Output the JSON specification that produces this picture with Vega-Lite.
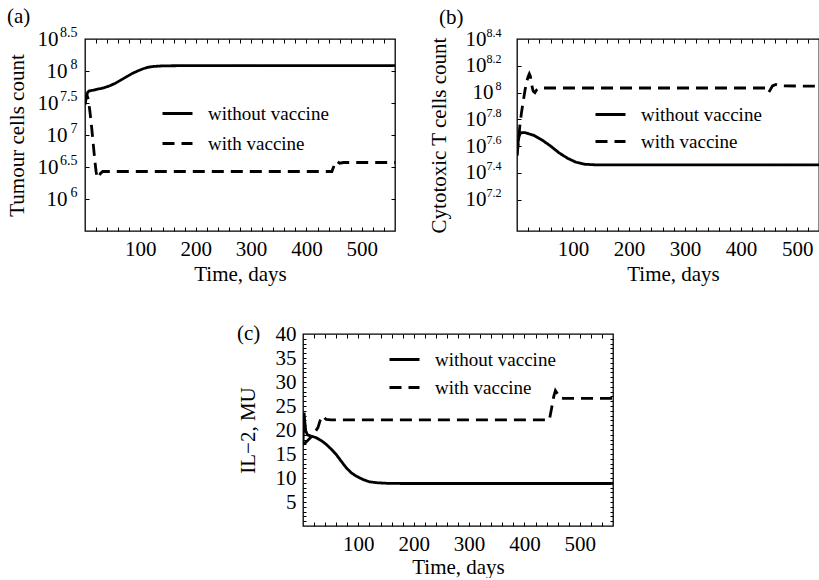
{
  "$schema": "https://vega.github.io/schema/vega-lite/v6.json",
  "padding": {"left": 5, "top": 5, "right": 0, "bottom": 0},
  "background": "white",
  "config": {
    "font": "Liberation Serif",
    "view": {"stroke": "black", "strokeWidth": 1.3},
    "axis": {"grid": false, "domain": false, "labelFont": "Liberation Serif", "titleFont": "Liberation Serif", "labelFontSize": 21, "titleFontSize": 21, "titleFontWeight": "normal", "labelColor": "black", "titleColor": "black", "tickColor": "black", "tickWidth": 1, "labelOverlap": false, "labelFlush": false, "labelBound": false},
    "legend": {"labelFont": "Liberation Serif", "labelFontSize": 19, "labelColor": "black", "symbolType": "stroke", "symbolStrokeWidth": 2.8, "symbolStrokeColor": "black", "symbolSize": 900, "padding": 0, "rowPadding": 0, "labelOffset": 14},
    "title": {"font": "Liberation Serif", "fontSize": 21, "fontWeight": "normal", "color": "black", "anchor": "start", "frame": "group"}
  },
  "datasets": {
    "a": [
      {"t": 0, "v": 7.48, "s": "without vaccine"}, {"t": 2, "v": 7.6, "s": "without vaccine"}, {"t": 5, "v": 7.67, "s": "without vaccine"}, {"t": 8, "v": 7.69, "s": "without vaccine"}, {"t": 15, "v": 7.7, "s": "without vaccine"}, {"t": 25, "v": 7.72, "s": "without vaccine"}, {"t": 35, "v": 7.74, "s": "without vaccine"}, {"t": 45, "v": 7.77, "s": "without vaccine"}, {"t": 55, "v": 7.81, "s": "without vaccine"}, {"t": 65, "v": 7.86, "s": "without vaccine"}, {"t": 75, "v": 7.91, "s": "without vaccine"}, {"t": 85, "v": 7.96, "s": "without vaccine"}, {"t": 95, "v": 8.0, "s": "without vaccine"}, {"t": 105, "v": 8.035, "s": "without vaccine"}, {"t": 115, "v": 8.06, "s": "without vaccine"}, {"t": 125, "v": 8.072, "s": "without vaccine"}, {"t": 140, "v": 8.08, "s": "without vaccine"}, {"t": 170, "v": 8.083, "s": "without vaccine"}, {"t": 560, "v": 8.083, "s": "without vaccine"},
      {"t": 0, "v": 7.48, "s": "with vaccine"}, {"t": 2, "v": 7.57, "s": "with vaccine"}, {"t": 4, "v": 7.61, "s": "with vaccine"}, {"t": 6, "v": 7.56, "s": "with vaccine"}, {"t": 9, "v": 7.36, "s": "with vaccine"}, {"t": 12, "v": 7.12, "s": "with vaccine"}, {"t": 15, "v": 6.85, "s": "with vaccine"}, {"t": 18, "v": 6.58, "s": "with vaccine"}, {"t": 20, "v": 6.43, "s": "with vaccine"}, {"t": 22, "v": 6.33, "s": "with vaccine"}, {"t": 25, "v": 6.35, "s": "with vaccine"}, {"t": 28, "v": 6.4, "s": "with vaccine"}, {"t": 32, "v": 6.43, "s": "with vaccine"}, {"t": 40, "v": 6.43, "s": "with vaccine"}, {"t": 446, "v": 6.43, "s": "with vaccine"}, {"t": 449, "v": 6.5, "s": "with vaccine"}, {"t": 452, "v": 6.58, "s": "with vaccine"}, {"t": 455, "v": 6.59, "s": "with vaccine"}, {"t": 460, "v": 6.56, "s": "with vaccine"}, {"t": 467, "v": 6.57, "s": "with vaccine"}, {"t": 560, "v": 6.57, "s": "with vaccine"}
    ],
    "b": [
      {"t": 0, "v": 7.53, "s": "without vaccine"}, {"t": 2, "v": 7.63, "s": "without vaccine"}, {"t": 4, "v": 7.68, "s": "without vaccine"}, {"t": 7, "v": 7.7, "s": "without vaccine"}, {"t": 15, "v": 7.7, "s": "without vaccine"}, {"t": 30, "v": 7.68, "s": "without vaccine"}, {"t": 45, "v": 7.645, "s": "without vaccine"}, {"t": 60, "v": 7.6, "s": "without vaccine"}, {"t": 75, "v": 7.55, "s": "without vaccine"}, {"t": 90, "v": 7.51, "s": "without vaccine"}, {"t": 105, "v": 7.48, "s": "without vaccine"}, {"t": 120, "v": 7.465, "s": "without vaccine"}, {"t": 140, "v": 7.46, "s": "without vaccine"}, {"t": 560, "v": 7.46, "s": "without vaccine"},
      {"t": 0, "v": 7.53, "s": "with vaccine"}, {"t": 3, "v": 7.65, "s": "with vaccine"}, {"t": 5, "v": 7.75, "s": "with vaccine"}, {"t": 8, "v": 7.85, "s": "with vaccine"}, {"t": 11, "v": 7.93, "s": "with vaccine"}, {"t": 14, "v": 8.01, "s": "with vaccine"}, {"t": 17, "v": 8.08, "s": "with vaccine"}, {"t": 20, "v": 8.12, "s": "with vaccine"}, {"t": 22, "v": 8.14, "s": "with vaccine"}, {"t": 24, "v": 8.12, "s": "with vaccine"}, {"t": 26, "v": 8.06, "s": "with vaccine"}, {"t": 29, "v": 8.01, "s": "with vaccine"}, {"t": 32, "v": 8.0, "s": "with vaccine"}, {"t": 35, "v": 8.02, "s": "with vaccine"}, {"t": 40, "v": 8.034, "s": "with vaccine"}, {"t": 445, "v": 8.034, "s": "with vaccine"}, {"t": 447, "v": 8.02, "s": "with vaccine"}, {"t": 449, "v": 8.0, "s": "with vaccine"}, {"t": 452, "v": 8.02, "s": "with vaccine"}, {"t": 456, "v": 8.05, "s": "with vaccine"}, {"t": 462, "v": 8.06, "s": "with vaccine"}, {"t": 470, "v": 8.05, "s": "with vaccine"}, {"t": 560, "v": 8.047, "s": "with vaccine"}
    ],
    "c": [
      {"t": 0, "v": 17, "s": "without vaccine"}, {"t": 1, "v": 21, "s": "without vaccine"}, {"t": 2, "v": 23.6, "s": "without vaccine"}, {"t": 3, "v": 22, "s": "without vaccine"}, {"t": 5, "v": 19.8, "s": "without vaccine"}, {"t": 8, "v": 19, "s": "without vaccine"}, {"t": 15, "v": 18.7, "s": "without vaccine"}, {"t": 24, "v": 18.4, "s": "without vaccine"}, {"t": 33, "v": 17.8, "s": "without vaccine"}, {"t": 42, "v": 17, "s": "without vaccine"}, {"t": 51, "v": 16, "s": "without vaccine"}, {"t": 60, "v": 14.9, "s": "without vaccine"}, {"t": 69, "v": 13.5, "s": "without vaccine"}, {"t": 78, "v": 12.15, "s": "without vaccine"}, {"t": 87, "v": 11.1, "s": "without vaccine"}, {"t": 96, "v": 10.4, "s": "without vaccine"}, {"t": 108, "v": 9.7, "s": "without vaccine"}, {"t": 120, "v": 9.2, "s": "without vaccine"}, {"t": 135, "v": 9.0, "s": "without vaccine"}, {"t": 151, "v": 8.9, "s": "without vaccine"}, {"t": 180, "v": 8.85, "s": "without vaccine"}, {"t": 560, "v": 8.85, "s": "without vaccine"},
      {"t": 0, "v": 17, "s": "with vaccine"}, {"t": 5, "v": 17.4, "s": "with vaccine"}, {"t": 10, "v": 18, "s": "with vaccine"}, {"t": 15, "v": 18.6, "s": "with vaccine"}, {"t": 20, "v": 19.3, "s": "with vaccine"}, {"t": 27, "v": 20.5, "s": "with vaccine"}, {"t": 31, "v": 22, "s": "with vaccine"}, {"t": 34, "v": 22.8, "s": "with vaccine"}, {"t": 36, "v": 22.9, "s": "with vaccine"}, {"t": 39, "v": 22.5, "s": "with vaccine"}, {"t": 42, "v": 22.2, "s": "with vaccine"}, {"t": 50, "v": 22.1, "s": "with vaccine"}, {"t": 445, "v": 22.1, "s": "with vaccine"}, {"t": 449, "v": 24.5, "s": "with vaccine"}, {"t": 453, "v": 27, "s": "with vaccine"}, {"t": 456, "v": 28.2, "s": "with vaccine"}, {"t": 460, "v": 27.5, "s": "with vaccine"}, {"t": 464, "v": 26.7, "s": "with vaccine"}, {"t": 470, "v": 26.6, "s": "with vaccine"}, {"t": 560, "v": 26.6, "s": "with vaccine"}
    ],
    "dummy": [{"t": 0}]
  },
  "spacing": 37,
  "resolve": {"scale": {"x": "independent", "y": "independent", "strokeDash": "independent"}, "legend": {"strokeDash": "independent"}},
  "vconcat": [
    {
      "spacing": 28,
      "resolve": {"scale": {"x": "independent", "y": "independent", "strokeDash": "independent"}, "legend": {"strokeDash": "independent"}},
      "hconcat": [
        {
          "width": 310, "height": 192,
          "title": {"text": "(a)", "dx": -78, "offset": -2},
          "data": {"name": "a"},
          "resolve": {"axis": {"x": "independent", "y": "independent"}},
          "layer": [
            {
              "mark": {"type": "line", "color": "black", "strokeWidth": 2.8, "clip": true},
              "encoding": {
                "x": {"field": "t", "type": "quantitative", "scale": {"domain": [0, 560], "nice": false, "zero": false},
                  "axis": {"orient": "bottom", "values": [20,40,60,80,100,120,140,160,180,200,220,240,260,280,300,320,340,360,380,400,420,440,460,480,500,520,540], "labelExpr": "datum.value % 100 === 0 ? datum.label : ''", "tickSize": -4, "labelPadding": 11, "title": "Time, days", "titlePadding": 4}},
                "y": {"field": "v", "type": "quantitative", "scale": {"domain": [5.5, 8.5], "nice": false, "zero": false},
                  "axis": {"orient": "left", "values": [6, 7, 8], "labelExpr": "'10'", "ticks": false, "labelPadding": 18, "title": "Tumour cells count", "titlePadding": 19}},
                "strokeDash": {"field": "s", "type": "nominal", "scale": {"domain": ["without vaccine", "with vaccine"], "range": [[1, 0], [12, 7]]},
                  "legend": {"orient": "none", "legendX": 76, "legendY": 58, "title": null, "rowPadding": 3}}
              }
            },
            {
              "mark": {"type": "point", "opacity": 0},
              "encoding": {
                "x": {"field": "t", "type": "quantitative", "axis": {"orient": "top", "values": [20,40,60,80,100,120,140,160,180,200,220,240,260,280,300,320,340,360,380,400,420,440,460,480,500,520,540], "labels": false, "tickSize": -4, "title": null}},
                "y": {"field": "v", "type": "quantitative", "axis": {"orient": "left", "values": [6.5, 7.5, 8.5], "labelExpr": "'10'", "ticks": false, "labelPadding": 27, "title": null}}
              }
            },
            {
              "mark": {"type": "point", "opacity": 0},
              "encoding": {
                "x": {"field": "t", "type": "quantitative", "axis": null},
                "y": {"field": "v", "type": "quantitative", "axis": {"orient": "left", "values": [6, 6.5, 7, 7.5, 8, 8.5], "labelExpr": "'' + datum.value", "labelFontSize": 14, "labelOffset": -7, "ticks": false, "labelPadding": 8, "title": null}}
              }
            },
            {
              "mark": {"type": "point", "opacity": 0},
              "encoding": {
                "x": {"field": "t", "type": "quantitative", "axis": null},
                "y": {"field": "v", "type": "quantitative", "axis": {"orient": "left", "values": [6, 6.5, 7, 7.5, 8], "labels": false, "tickSize": -4, "title": null}}
              }
            },
            {
              "mark": {"type": "point", "opacity": 0},
              "encoding": {
                "x": {"field": "t", "type": "quantitative", "axis": null},
                "y": {"field": "v", "type": "quantitative", "axis": {"orient": "right", "values": [6, 6.5, 7, 7.5, 8], "labels": false, "tickSize": -4, "title": null}}
              }
            }
          ]
        },
        {
          "width": 302, "height": 192,
          "title": {"text": "(b)", "dx": -78, "offset": -2},
          "data": {"name": "b"},
          "resolve": {"axis": {"x": "independent", "y": "independent"}},
          "layer": [
            {
              "mark": {"type": "line", "color": "black", "strokeWidth": 2.8, "clip": true},
              "encoding": {
                "x": {"field": "t", "type": "quantitative", "scale": {"domain": [0, 539], "nice": false, "zero": false},
                  "axis": {"orient": "bottom", "values": [20,40,60,80,100,120,140,160,180,200,220,240,260,280,300,320,340,360,380,400,420,440,460,480,500,520], "labelExpr": "datum.value % 100 === 0 ? datum.label : ''", "tickSize": -4, "labelPadding": 11, "title": "Time, days", "titlePadding": 4, "titleX": 156, "titleAlign": "center"}},
                "y": {"field": "v", "type": "quantitative", "scale": {"domain": [6.966, 8.4], "nice": false, "zero": false},
                  "axis": {"orient": "left", "values": [8], "labelExpr": "'10'", "ticks": false, "labelPadding": 24, "title": "Cytotoxic T cells count", "titlePadding": 23}},
                "strokeDash": {"field": "s", "type": "nominal", "scale": {"domain": ["without vaccine", "with vaccine"], "range": [[1, 0], [12, 7]]},
                  "legend": {"orient": "none", "legendX": 77, "legendY": 59, "title": null}}
              }
            },
            {
              "mark": {"type": "point", "opacity": 0},
              "encoding": {
                "x": {"field": "t", "type": "quantitative", "axis": {"orient": "top", "values": [20,40,60,80,100,120,140,160,180,200,220,240,260,280,300,320,340,360,380,400,420,440,460,480,500,520], "labels": false, "tickSize": -4, "title": null}},
                "y": {"field": "v", "type": "quantitative", "axis": {"orient": "left", "values": [7.2, 7.4, 7.6, 7.8, 8.2, 8.4], "labelExpr": "'10'", "ticks": false, "labelPadding": 31, "title": null}}
              }
            },
            {
              "mark": {"type": "point", "opacity": 0},
              "encoding": {
                "x": {"field": "t", "type": "quantitative", "axis": null},
                "y": {"field": "v", "type": "quantitative", "axis": {"orient": "left", "values": [7.2, 7.4, 7.6, 7.8, 8, 8.2, 8.4], "labelExpr": "'' + datum.value", "labelFontSize": 12, "labelOffset": -7, "ticks": false, "labelPadding": 16, "title": null}}
              }
            },
            {
              "mark": {"type": "point", "opacity": 0},
              "encoding": {
                "x": {"field": "t", "type": "quantitative", "axis": null},
                "y": {"field": "v", "type": "quantitative", "axis": {"orient": "left", "values": [7.2, 7.4, 7.6, 7.8, 8, 8.2], "labels": false, "tickSize": -4, "title": null}}
              }
            }
          ]
        }
      ]
    },
    {
      "spacing": 25,
      "resolve": {"scale": {"x": "independent", "y": "independent", "strokeDash": "independent"}, "legend": {"strokeDash": "independent"}},
      "hconcat": [
        {
          "width": 126, "height": 192,
          "data": {"name": "dummy"},
          "mark": {"type": "point", "opacity": 0},
          "view": {"stroke": null}
        },
        {
          "width": 310, "height": 192,
          "title": {"text": "(c)", "dx": -66, "offset": 14, "dy": 35},
          "data": {"name": "c"},
          "resolve": {"axis": {"x": "independent", "y": "independent"}},
          "layer": [
            {
              "mark": {"type": "line", "color": "black", "strokeWidth": 2.8, "clip": true},
              "encoding": {
                "x": {"field": "t", "type": "quantitative", "scale": {"domain": [0, 560], "nice": false, "zero": false},
                  "axis": {"orient": "bottom", "values": [20,40,60,80,100,120,140,160,180,200,220,240,260,280,300,320,340,360,380,400,420,440,460,480,500,520,540], "labelExpr": "datum.value % 100 === 0 ? datum.label : ''", "tickSize": -4, "labelPadding": 11, "title": "Time, days", "titlePadding": 2}},
                "y": {"field": "v", "type": "quantitative", "scale": {"domain": [0, 40], "nice": false, "zero": false},
                  "axis": {"orient": "left", "values": [5, 10, 15, 20, 25, 30, 35, 40], "ticks": false, "labelPadding": 7, "title": "IL\u22122, MU", "titlePadding": 17}},
                "strokeDash": {"field": "s", "type": "nominal", "scale": {"domain": ["without vaccine", "with vaccine"], "range": [[1, 0], [12, 7]]},
                  "legend": {"orient": "none", "legendX": 85, "legendY": 9, "title": null, "rowPadding": 1}}
              }
            },
            {
              "mark": {"type": "point", "opacity": 0},
              "encoding": {
                "x": {"field": "t", "type": "quantitative", "axis": {"orient": "top", "values": [20,40,60,80,100,120,140,160,180,200,220,240,260,280,300,320,340,360,380,400,420,440,460,480,500,520,540], "labels": false, "tickSize": -4, "title": null}},
                "y": {"field": "v", "type": "quantitative", "axis": {"orient": "left", "values": [1,2,3,4,5,6,7,8,9,10,11,12,13,14,15,16,17,18,19,20,21,22,23,24,25,26,27,28,29,30,31,32,33,34,35,36,37,38,39], "labels": false, "tickSize": -3, "title": null}}
              }
            },
            {
              "mark": {"type": "point", "opacity": 0},
              "encoding": {
                "x": {"field": "t", "type": "quantitative", "axis": null},
                "y": {"field": "v", "type": "quantitative", "axis": {"orient": "right", "values": [1,2,3,4,5,6,7,8,9,10,11,12,13,14,15,16,17,18,19,20,21,22,23,24,25,26,27,28,29,30,31,32,33,34,35,36,37,38,39], "labels": false, "tickSize": -3, "title": null}}
              }
            }
          ]
        }
      ]
    }
  ]
}
